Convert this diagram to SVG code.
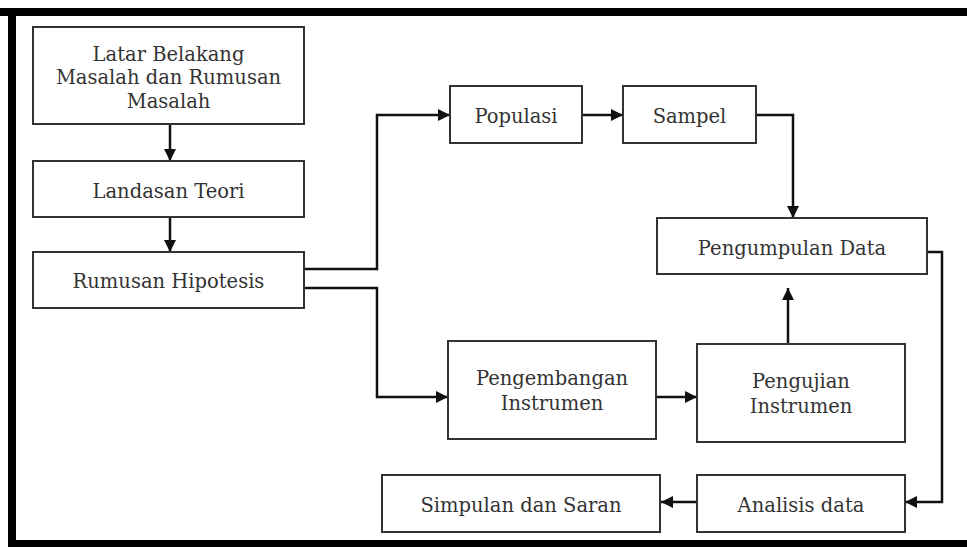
<svg xmlns="http://www.w3.org/2000/svg" width="967" height="547" viewBox="0 0 967 547">
<style>
.box{fill:#fff;stroke:#333;stroke-width:2}
.t{font-family:"DejaVu Serif","Liberation Serif",serif;font-size:19.5px;fill:#333;text-anchor:middle}
.c{fill:none;stroke:#111;stroke-width:2.5}
</style>
<defs>
<marker id="ah" viewBox="0 0 12 12" refX="12" refY="6" markerWidth="12" markerHeight="12" markerUnits="userSpaceOnUse" orient="auto">
<path d="M0,0 L12,6 L0,12 Z" fill="#111"/>
</marker>
</defs>
<rect x="0" y="0" width="967" height="547" fill="#fff"/>
<g id="frame">
<rect x="0" y="8" width="967" height="8" fill="#000"/>
<rect x="8" y="8" width="8" height="539" fill="#000"/>
<rect x="8" y="540" width="959" height="7" fill="#000"/>
</g>
<g id="connectors">
<path class="c" d="M170,124 V161" marker-end="url(#ah)"/>
<path class="c" d="M170,217 V252" marker-end="url(#ah)"/>
<path class="c" d="M304,269 H377 V115 H450" marker-end="url(#ah)"/>
<path class="c" d="M304,288 H377 V397 H448" marker-end="url(#ah)"/>
<path class="c" d="M582,115 H623" marker-end="url(#ah)"/>
<path class="c" d="M756,115 H793 V218" marker-end="url(#ah)"/>
<path class="c" d="M656,397 H697" marker-end="url(#ah)"/>
<path class="c" d="M788,344 V288" marker-end="url(#ah)"/>
<path class="c" d="M927,252 H942 V502 H905" marker-end="url(#ah)"/>
<path class="c" d="M697,502 H661" marker-end="url(#ah)"/>
</g>
<g id="latar">
<rect class="box" x="33" y="27" width="271" height="97"/>
<text class="t" x="168.5" y="61">Latar Belakang</text>
<text class="t" x="168.5" y="84">Masalah dan Rumusan</text>
<text class="t" x="168.5" y="108">Masalah</text>
</g>
<g id="landasan">
<rect class="box" x="33" y="161" width="271" height="56"/>
<text class="t" x="168.5" y="198">Landasan Teori</text>
</g>
<g id="hipotesis">
<rect class="box" x="33" y="252" width="271" height="56"/>
<text class="t" x="168.5" y="288">Rumusan Hipotesis</text>
</g>
<g id="populasi">
<rect class="box" x="450" y="86" width="132" height="57"/>
<text class="t" x="516" y="123">Populasi</text>
</g>
<g id="sampel">
<rect class="box" x="623" y="86" width="133" height="57"/>
<text class="t" x="689.5" y="123">Sampel</text>
</g>
<g id="pengumpulan">
<rect class="box" x="657" y="218" width="270" height="56"/>
<text class="t" x="792" y="255">Pengumpulan Data</text>
</g>
<g id="pengembangan">
<rect class="box" x="448" y="341" width="208" height="98"/>
<text class="t" x="552" y="385">Pengembangan</text>
<text class="t" x="552" y="410">Instrumen</text>
</g>
<g id="pengujian">
<rect class="box" x="697" y="344" width="208" height="98"/>
<text class="t" x="801" y="388">Pengujian</text>
<text class="t" x="801" y="413">Instrumen</text>
</g>
<g id="analisis">
<rect class="box" x="697" y="475" width="208" height="57"/>
<text class="t" x="801" y="512">Analisis data</text>
</g>
<g id="simpulan">
<rect class="box" x="382" y="475" width="278" height="57"/>
<text class="t" x="521" y="512">Simpulan dan Saran</text>
</g>
</svg>
